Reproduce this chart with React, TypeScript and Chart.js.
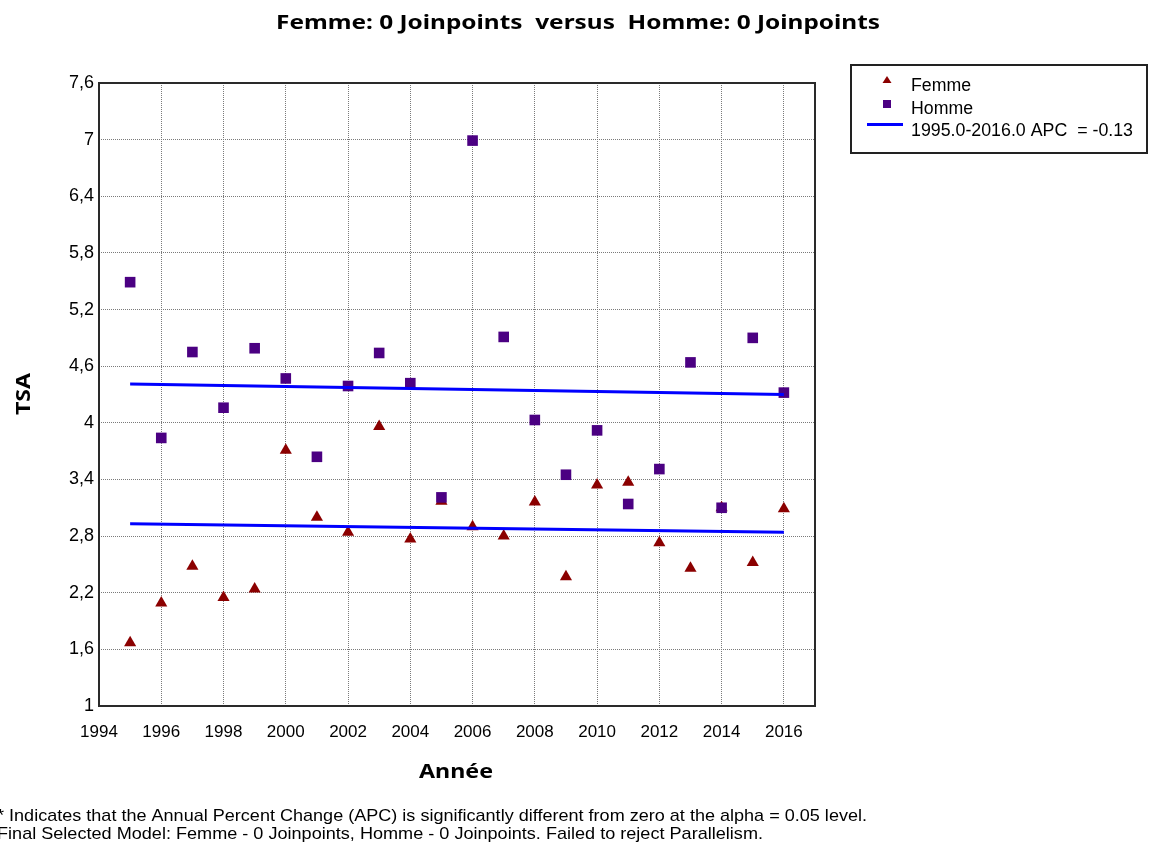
import React, { useEffect, useRef } from "react";
import { Chart, registerables } from "chart.js";

Chart.register(...registerables);

const years = [1995, 1996, 1997, 1998, 1999, 2000, 2001, 2002, 2003, 2004, 2005, 2006, 2007, 2008, 2009, 2010, 2011, 2012, 2013, 2014, 2015, 2016];
const femme = [1.67, 2.09, 2.48, 2.15, 2.24, 3.71, 3.0, 2.84, 3.96, 2.77, 3.17, 2.9, 2.8, 3.16, 2.37, 3.34, 3.37, 2.73, 2.46, 3.1, 2.52, 3.09];
const homme = [5.49, 3.84, 4.75, 4.16, 4.79, 4.47, 3.64, 4.39, 4.74, 4.42, 3.21, 6.99, 4.91, 4.03, 3.45, 3.92, 3.14, 3.51, 4.64, 3.1, 4.9, 4.32];
const fitYears = [1995, 2016];
const femmeFit = [2.93, 2.84];
const hommeFit = [4.41, 4.30];
const xTickYears = [1994, 1996, 1998, 2000, 2002, 2004, 2006, 2008, 2010, 2012, 2014, 2016];

const titleText = "Femme: 0 Joinpoints  versus  Homme: 0 Joinpoints";
const xTitle = "Année";
const yTitle = "TSA";
const legendFemme = "Femme";
const legendHomme = "Homme";
const legendFit = "1995.0-2016.0 APC  = -0.13";
const foot1 = "* Indicates that the Annual Percent Change (APC) is significantly different from zero at the alpha = 0.05 level.";
const foot2 = "Final Selected Model: Femme - 0 Joinpoints, Homme - 0 Joinpoints. Failed to reject Parallelism.";

const FEMME_COLOR = "#8b0000";
const HOMME_COLOR = "#4b0082";
const FIT_COLOR = "#0000ff";

function fitText(ctx: CanvasRenderingContext2D, text: string, x: number, y: number, width: number, font: string, align: "left" | "center" = "left") {
  ctx.save();
  ctx.font = font;
  ctx.textBaseline = "alphabetic";
  ctx.textAlign = "left";
  const w = ctx.measureText(text).width;
  const sx = width / w;
  const startX = align === "center" ? x - width / 2 : x;
  ctx.translate(startX, y);
  ctx.scale(sx, 1);
  ctx.fillText(text, 0, 0);
  ctx.restore();
}

const decorPlugin = {
  id: "decor",
  afterDraw(chart: any) {
    const ctx: CanvasRenderingContext2D = chart.ctx;
    const a = chart.chartArea;
    ctx.save();
    ctx.strokeStyle = "#2a2a2a";
    ctx.lineWidth = 2;
    ctx.strokeRect(a.left, a.top, a.right - a.left, a.bottom - a.top);

    ctx.fillStyle = "#000";
    fitText(ctx, titleText, 578, 29, 604, "bold 19px 'Noto Sans'", "center");
    fitText(ctx, xTitle, 456, 778, 74, "bold 19px 'Noto Sans'", "center");
    ctx.save();
    ctx.translate(30, 394);
    ctx.rotate(-Math.PI / 2);
    fitText(ctx, yTitle, 0, 0, 42, "bold 19px 'Noto Sans'", "center");
    ctx.restore();

    ctx.strokeStyle = "#222";
    ctx.lineWidth = 2;
    ctx.strokeRect(851, 65, 296, 88);
    ctx.fillStyle = FEMME_COLOR;
    ctx.beginPath();
    ctx.moveTo(887, 76);
    ctx.lineTo(891.5, 83);
    ctx.lineTo(882.5, 83);
    ctx.closePath();
    ctx.fill();
    ctx.fillStyle = HOMME_COLOR;
    ctx.fillRect(883, 100, 8, 8);
    ctx.strokeStyle = FIT_COLOR;
    ctx.lineWidth = 3;
    ctx.beginPath();
    ctx.moveTo(867, 124.5);
    ctx.lineTo(903, 124.5);
    ctx.stroke();
    ctx.fillStyle = "#000";
    fitText(ctx, legendFemme, 911, 91, 60, "18px 'Liberation Sans'");
    fitText(ctx, legendHomme, 911, 114, 62, "18px 'Liberation Sans'");
    fitText(ctx, legendFit, 911, 136, 222, "18px 'Liberation Sans'");

    fitText(ctx, foot1, -3, 821, 870, "17px 'Liberation Sans'");
    fitText(ctx, foot2, -3, 839, 766, "17px 'Liberation Sans'");
    ctx.restore();
  },
};

export default function App() {
  const ref = useRef<HTMLCanvasElement | null>(null);
  useEffect(() => {
    if (!ref.current) return;
    const toPts = (xs: number[], ys: number[]) => xs.map((x, i) => ({ x, y: ys[i] }));
    const chart = new Chart(ref.current, {
      type: "scatter",
      data: {
        datasets: [
          {
            label: "Homme fit",
            type: "line",
            data: toPts(fitYears, hommeFit),
            borderColor: FIT_COLOR,
            borderWidth: 3,
            pointRadius: 0,
            showLine: true,
            fill: false,
          } as any,
          {
            label: "Femme fit",
            type: "line",
            data: toPts(fitYears, femmeFit),
            borderColor: FIT_COLOR,
            borderWidth: 3,
            pointRadius: 0,
            showLine: true,
            fill: false,
          } as any,
          {
            label: "Homme",
            data: toPts(years, homme),
            pointStyle: "rect",
            pointRadius: 7.5,
            backgroundColor: HOMME_COLOR,
            borderColor: HOMME_COLOR,
            borderWidth: 0,
          },
          {
            label: "Femme",
            data: toPts(years, femme),
            pointStyle: "triangle",
            pointRadius: 7,
            backgroundColor: FEMME_COLOR,
            borderColor: FEMME_COLOR,
            borderWidth: 0,
          },
        ],
      },
      options: {
        animation: false,
        responsive: false,
        events: [],
        layout: { padding: { left: 0, top: 83, right: 337, bottom: 0 } },
        plugins: { legend: { display: false }, title: { display: false }, tooltip: { enabled: false } },
        scales: {
          x: {
            type: "linear",
            min: 1994,
            max: 2017,
            afterFit: (s: any) => {
              s.height = 138;
            },
            afterBuildTicks: (s: any) => {
              s.ticks = xTickYears.map((v) => ({ value: v }));
            },
            ticks: {
              stepSize: 2,
              includeBounds: false,
              autoSkip: false,
              maxRotation: 0,
              padding: 16,
              color: "#000",
              font: { family: "'Liberation Sans'", size: 17 },
              callback: (v: any) => String(v),
            },
            grid: { color: "#7a7a7a", lineWidth: 1, drawTicks: false },
            border: { display: false, dash: [1, 1] },
          },
          y: {
            min: 1,
            max: 7.6,
            afterFit: (s: any) => {
              s.width = 99;
            },
            ticks: {
              stepSize: 0.6,
              autoSkip: false,
              padding: 5,
              color: "#000",
              font: { family: "'Liberation Sans'", size: 18 },
              callback: (v: any) => String(Number(Number(v).toFixed(1))).replace(".", ","),
            },
            grid: { color: "#7a7a7a", lineWidth: 1, drawTicks: false },
            border: { display: false, dash: [1, 1] },
          },
        },
      },
      plugins: [decorPlugin],
    });
    return () => chart.destroy();
  }, []);
  return (
    <div style={{ position: "absolute", left: 0, top: 0, width: 1152, height: 844, background: "#fff" }}>
      <canvas ref={ref} width={1152} height={844} style={{ display: "block", width: 1152, height: 844 }} />
    </div>
  );
}
